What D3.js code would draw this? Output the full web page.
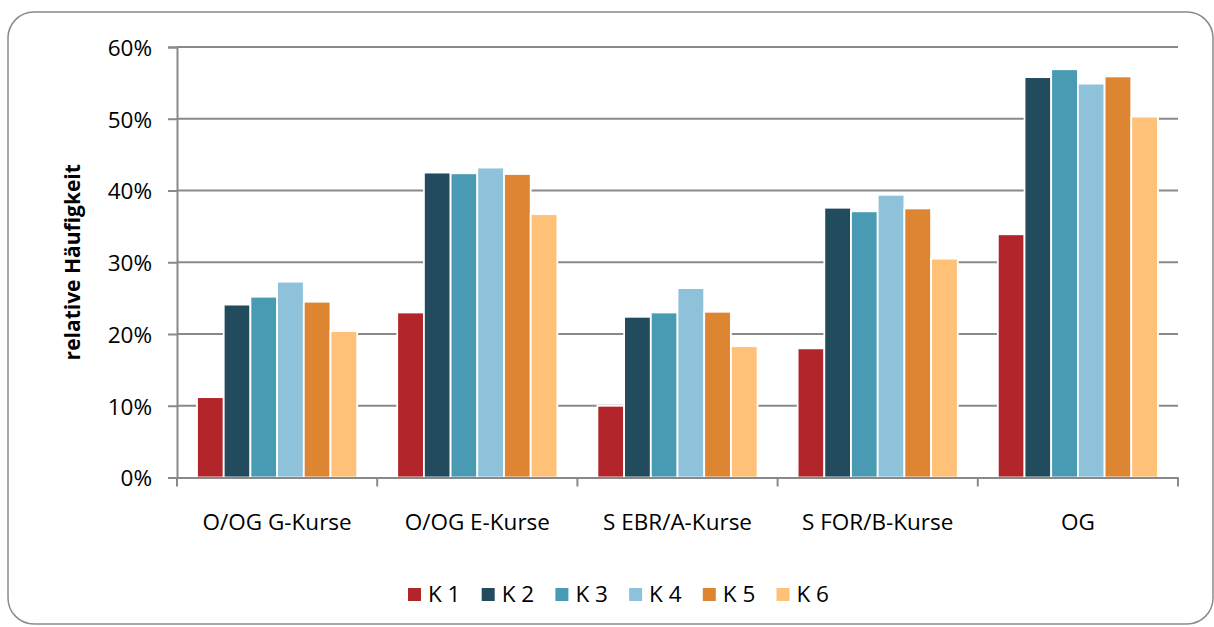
<!DOCTYPE html>
<html>
<head>
<meta charset="utf-8">
<script src="https://cdn.jsdelivr.net/npm/d3@7/dist/d3.min.js"></script>
<style>
  html, body { margin: 0; padding: 0; background: #fff; }
  svg { display: block; font-family: "Open Sans", sans-serif; }
</style>
</head>
<body>
<div id="chart"></div>
<script>
const categories = ['O/OG G-Kurse', 'O/OG E-Kurse', 'S EBR/A-Kurse', 'S FOR/B-Kurse', 'OG'];
const seriesNames = ['K 1', 'K 2', 'K 3', 'K 4', 'K 5', 'K 6'];
const k1 = [11.2, 23.0, 10.0, 18.0, 33.9];
const k2 = [24.1, 42.5, 22.4, 37.6, 55.8];
const k3 = [25.2, 42.4, 23.0, 37.1, 56.9];
const k4 = [27.3, 43.2, 26.4, 39.4, 54.9];
const k5 = [24.5, 42.3, 23.1, 37.5, 55.9];
const k6 = [20.4, 36.7, 18.3, 30.5, 50.3];
const yTicks = [0, 10, 20, 30, 40, 50, 60];
const colors = ['#b2252a', '#234b5e', '#489bb3', '#8ec2da', '#de8532', '#ffc078'];

const width = 1214, height = 627;
const margin = { top: 47, right: 36, bottom: 149.5, left: 177 };
const plotW = width - margin.left - margin.right;
const plotH = height - margin.top - margin.bottom;
const fontSize = "22.5px";

const seriesValues = [k1, k2, k3, k4, k5, k6];

const svg = d3.select("#chart")
    .append("svg")
    .attr("width", width)
    .attr("height", height);

// outer frame
svg.append("rect")
    .attr("x", 8).attr("y", 12)
    .attr("width", 1205).attr("height", 612)
    .attr("rx", 26).attr("ry", 26)
    .attr("fill", "#fff")
    .attr("stroke", "#8a8a8a")
    .attr("stroke-width", 1.5);

const g = svg.append("g")
    .attr("transform", `translate(${margin.left},${margin.top})`);

const x0 = d3.scaleBand().domain(categories).range([0, plotW]).padding(0);
const x1 = d3.scaleBand().domain(seriesNames).range([0, x0.bandwidth()])
    .paddingInner(0).paddingOuter(0.75);
const y = d3.scaleLinear().domain([0, 60]).range([plotH, 0]);

// gridlines
g.selectAll(".grid")
    .data(yTicks.filter(d => d > 0))
    .enter()
    .append("line")
    .attr("x1", 0).attr("x2", plotW)
    .attr("y1", d => y(d)).attr("y2", d => y(d))
    .attr("stroke", "#898989")
    .attr("stroke-width", 2);

// y axis
const yAxis = g.append("g")
    .call(d3.axisLeft(y).tickValues(yTicks).tickFormat(d => d + "%").tickSize(9).tickPadding(16));
yAxis.select(".domain").attr("stroke", "#898989").attr("stroke-width", 2);
yAxis.selectAll(".tick line").attr("stroke", "#898989").attr("stroke-width", 2);
yAxis.selectAll("text")
    .attr("fill", "#000")
    .attr("dy", "0.37em")
    .style("font-size", fontSize)
    .style("font-family", "'Open Sans', sans-serif");

// bars
const groups = g.selectAll(".group")
    .data(categories)
    .enter()
    .append("g")
    .attr("transform", d => `translate(${x0(d)},0)`);

groups.selectAll("rect")
    .data((c, ci) => seriesNames.map((s, si) => ({ s, si, v: seriesValues[si][ci] })))
    .enter()
    .append("rect")
    .attr("x", d => x1(d.s))
    .attr("y", d => y(d.v))
    .attr("width", x1.bandwidth())
    .attr("height", d => plotH - y(d.v))
    .attr("fill", d => colors[d.si])
    .attr("stroke", "#fff")
    .attr("stroke-width", 1.8);

// x axis
const xAxis = g.append("g")
    .attr("transform", `translate(0,${plotH})`)
    .call(d3.axisBottom(x0).tickSize(0));
xAxis.select(".domain").attr("stroke", "#898989").attr("stroke-width", 2);
xAxis.selectAll("text")
    .attr("fill", "#000")
    .attr("y", 52)
    .attr("dy", 0)
    .style("font-size", fontSize)
    .style("font-family", "'Open Sans', sans-serif");

// x group boundary ticks
const bounds = categories.map(c => x0(c)).concat([plotW]);
g.selectAll(".xtick")
    .data(bounds)
    .enter()
    .append("line")
    .attr("x1", d => d).attr("x2", d => d)
    .attr("y1", plotH).attr("y2", plotH + 9)
    .attr("stroke", "#898989")
    .attr("stroke-width", 2);

// y title
svg.append("text")
    .attr("transform", `translate(80,${margin.top + plotH / 2}) rotate(-90)`)
    .attr("text-anchor", "middle")
    .style("font-size", "21px")
    .style("font-weight", "bold")
    .text("relative Häufigkeit");

// legend
const legend = svg.append("g").attr("transform", "translate(408,588)");
const items = legend.selectAll(".item")
    .data(seriesNames)
    .enter()
    .append("g")
    .attr("transform", (d, i) => `translate(${i * 73.7},0)`);
items.append("rect")
    .attr("width", 13).attr("height", 13)
    .attr("fill", (d, i) => colors[i]);
items.append("text")
    .attr("x", 20).attr("y", 14)
    .style("font-size", fontSize)
    .text(d => d);
</script>
</body>
</html>
